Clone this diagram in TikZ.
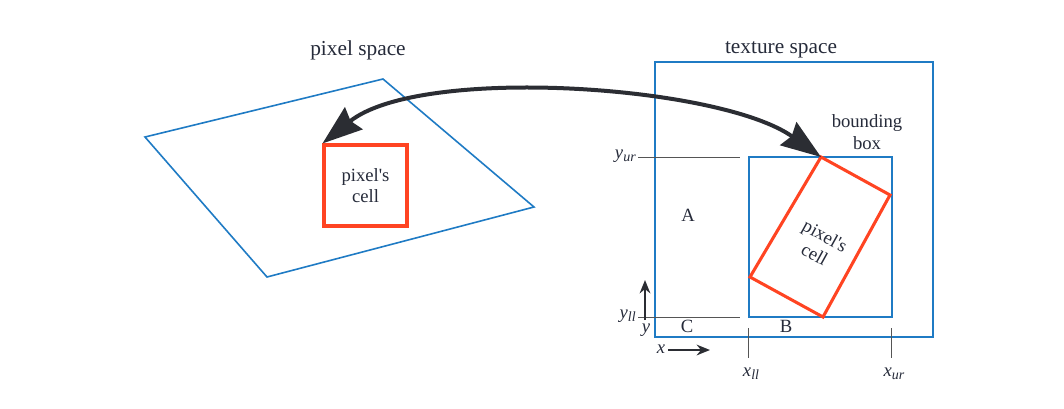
\documentclass[tikz,border=0pt]{standalone}
\usepackage{fontspec}
\setmainfont{Liberation Serif}[Ligatures=TeXOff]
\usetikzlibrary{arrows.meta}
\definecolor{bl}{HTML}{1F7BC4}
\definecolor{rd}{HTML}{FF4422}
\definecolor{tx}{HTML}{262B3A}
\definecolor{ar}{HTML}{2B2D33}
\definecolor{gl}{HTML}{555555}
\tikzset{
  bluebox/.style={draw=bl, line width=1.2pt},
  redbox/.style={draw=rd, line width=2.3pt},
  lbl/.style={text=tx, font=\fontsize{14}{16}\selectfont, inner sep=0pt},
  ttl/.style={text=tx, font=\fontsize{16}{19}\selectfont, inner sep=0pt},
  guide/.style={draw=gl, line width=0.7pt},
  bigarrow/.style={draw=ar, line width=3pt, {Stealth[length=30pt,width=21pt,inset=3pt]}-{Stealth[length=30pt,width=21pt,inset=3pt]}},
  smallarrow/.style={draw=ar, line width=1.8pt, -{Stealth[length=10pt,width=8pt]}}
}
\newcommand{\sub}[2]{\textit{#1}\raisebox{-0.35ex}{\fontsize{10.5}{12}\selectfont\itshape #2}}
\begin{document}
\begin{tikzpicture}[x=0.75pt,y=-0.75pt]
\useasboundingbox (0,0) rectangle (1064,408);
% left quad
\coordinate (q1) at (145,137);
\coordinate (q2) at (383,79);
\coordinate (q3) at (534,207);
\coordinate (q4) at (267,277);
\draw[bluebox] (q1) -- (q2) -- (q3) -- (q4) -- cycle;
\node[ttl] (ps) at (358,50) {pixel space};
\node[redbox, minimum width=62.25pt, minimum height=60.75pt, inner sep=0pt, align=center, text=tx, font=\fontsize{14}{16}\selectfont] (pc) at (365.5,185.5) {pixel's\\cell};
% texture space
\node[bluebox, minimum width=208.5pt, minimum height=206.25pt, inner sep=0pt] (ts) at (794,199.5) {};
\node[ttl] (tst) at (781,50) {texture space};
\node[bluebox, minimum width=107.25pt, minimum height=120pt, inner sep=0pt] (bb) at (820.5,237) {};
\node[lbl, align=center] (bbt) at (867,132) {bounding\\[1pt]box};
% rotated cell
\coordinate (r1) at (821,157);
\coordinate (r2) at (890,195);
\coordinate (r3) at (823,317);
\coordinate (r4) at (750,277);
\draw[redbox, line join=miter] (r1) -- (r2) -- (r3) -- (r4) -- cycle;
\node[lbl, rotate=-29, align=center] (rc) at (820,245) {pixel's\\cell};
% big arrow
\draw[bigarrow] (pc.north west) .. controls (420,65) and (720,85) .. (r1);
% guides
\coordinate (gu1) at (638,157);
\coordinate (gu2) at (740,157);
\coordinate (gl1) at (638,317);
\coordinate (gl2) at (740,317);
\draw[guide] (gu1) -- (gu2);
\draw[guide] (gl1) -- (gl2);
\node[lbl, anchor=east] (yur) at (636,156) {\sub{y}{ur}};
\node[lbl, anchor=east] (yll) at (636,316) {\sub{y}{ll}};
\coordinate (t1a) at (748,328);
\coordinate (t1b) at (748,358);
\coordinate (t2a) at (891,328);
\coordinate (t2b) at (891,358);
\draw[guide] (t1a) -- (t1b);
\draw[guide] (t2a) -- (t2b);
\node[lbl] (xll) at (751,374) {\sub{x}{ll}};
\node[lbl] (xur) at (894,374) {\sub{x}{ur}};
% region labels
\node[lbl] (A) at (688,215) {A};
\node[lbl] (B) at (786,326) {B};
\node[lbl] (C) at (687,326) {C};
% axes
\coordinate (ya) at (645,320);
\coordinate (yb) at (645,280);
\draw[smallarrow] (ya) -- (yb);
\node[lbl] (yl) at (646,330) {\textit{y}};
\coordinate (xa) at (668,350);
\coordinate (xb) at (710,350);
\draw[smallarrow] (xa) -- (xb);
\node[lbl] (xl) at (661,349) {\textit{x}};
\end{tikzpicture}
\end{document}
